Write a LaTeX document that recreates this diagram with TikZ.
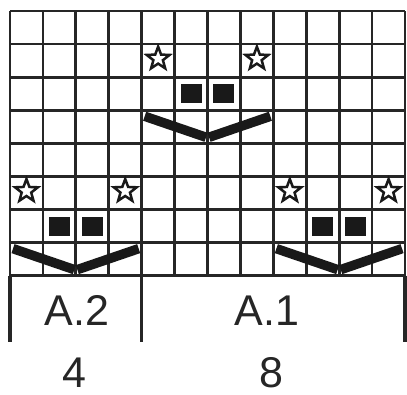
\documentclass[tikz,border=0pt]{standalone}
\usepackage{fontspec}
\setmainfont{Liberation Sans}
\usetikzlibrary{shapes.geometric}
\begin{document}
\begin{tikzpicture}[x=1pt,y=-1pt,
 gridline/.style={line width=2.7pt, draw=black!85},
 sepline/.style={line width=3.4pt, draw=black!85},
 starmark/.style={star, star points=5, star point ratio=2.4, minimum size=24pt, inner sep=0pt, draw=black!90, line width=2.5pt, fill=white},
 purlbox/.style={rectangle, minimum width=21pt, minimum height=19pt, inner sep=0pt, fill=black!90},
 vstroke/.style={line width=9.5pt, draw=black!90, line cap=butt},
 lbl/.style={font=\fontsize{43}{43}\selectfont, inner sep=0pt, text=black!85}]
\useasboundingbox[fill=white] (0,0) rectangle (407,394);
\def\cw{32.92}
\def\rh{33.09}
% grid
\foreach \i in {0,...,12} \draw[gridline] ({10+\i*\cw},11) -- ({10+\i*\cw},275.7);
\foreach \j in {0,...,8} \draw[gridline] (10,{11+\j*\rh}) -- (405,{11+\j*\rh});
% legend brackets
\coordinate (bl) at (10,342);
\coordinate (bm) at ({10+4*\cw},342);
\coordinate (br) at (405,342);
\coordinate (gl) at (10,275.7);
\coordinate (gm) at ({10+4*\cw},11);
\coordinate (gr) at (405,275.7);
\draw[sepline] (gl) -- (bl);
\draw[sepline] (gm) -- (bm);
\draw[sepline] (gr) -- (br);
% stars
\foreach \c/\r/\n in {5/2/s1, 8/2/s2, 1/6/s3, 4/6/s4, 9/6/s5, 12/6/s6}
  \node[starmark] (\n) at ({10+(\c-0.5)*\cw},{11+(\r-0.5)*\rh-2}) {};
% purl boxes
\foreach \c/\r/\n in {6/3/p1, 7/3/p2, 2/7/p3, 3/7/p4, 10/7/p5, 11/7/p6}
  \node[purlbox] (\n) at ({10+(\c-0.5)*\cw},{11+(\r-0.5)*\rh}) {};
% V strokes
\foreach \L/\R/\n in {4/4/va, 0/8/vb, 8/8/vc}{
  \coordinate (\n l) at ({10+\L*\cw+3},{11+(\R-1)*\rh+6});
  \coordinate (\n m1) at ({10+(\L+2)*\cw-1.5},{11+(\R-1)*\rh+27});
  \coordinate (\n m2) at ({10+(\L+2)*\cw+1.5},{11+(\R-1)*\rh+27});
  \coordinate (\n r) at ({10+(\L+4)*\cw-3},{11+(\R-1)*\rh+6});
  \draw[vstroke] (\n l) -- (\n m1);
  \draw[vstroke] (\n m2) -- (\n r);
}
% labels
\node[lbl] (a2) at (77,310.5) {A.2};
\node[lbl] (a1) at (267,310.5) {A.1};
\node[lbl] (n4) at (74,373) {4};
\node[lbl] (n8) at (271,373) {8};
\end{tikzpicture}
\end{document}
